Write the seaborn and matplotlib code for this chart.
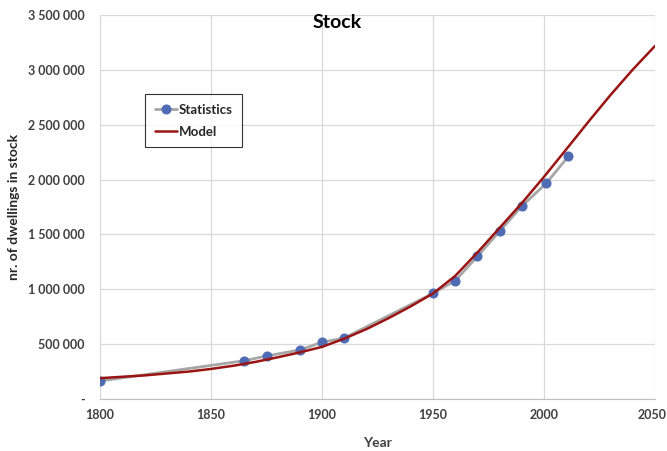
import matplotlib
matplotlib.use("Agg")
import matplotlib.pyplot as plt
import matplotlib.transforms as mtransforms
import seaborn as sns
import pandas as pd
from matplotlib.ticker import FuncFormatter, MultipleLocator

stat_years = [1800, 1865, 1875, 1890, 1900, 1910, 1950, 1960, 1970, 1980, 1990, 2001, 2011]
stat_values = [164000, 349000, 392000, 447000, 517000, 556000, 963000, 1078000,
               1300000, 1529000, 1757000, 1966000, 2212000]

model_years = [1800, 1820, 1840, 1850, 1860, 1870, 1880, 1890, 1900, 1910, 1920,
               1930, 1940, 1950, 1960, 1970, 1980, 1990, 2000, 2010, 2020, 2030,
               2040, 2050]
model_values = [190000, 215000, 250000, 274000, 303000, 338000, 380000, 425000,
                475000, 550000, 637000, 737000, 845000, 962000, 1122000, 1335000,
                1560000, 1785000, 2025000, 2275000, 2527000, 2772000, 3003000,
                3218000]

stats_df = pd.DataFrame({"Year": stat_years, "Stock": stat_values})
model_df = pd.DataFrame({"Year": model_years, "Stock": model_values})

sns.set_style("white")
plt.rcParams['font.family'] = ['Lato', 'DejaVu Sans']

fig = plt.figure(figsize=(6.67, 4.51), dpi=100)
ax = fig.add_axes([0.150, 0.1153, 0.832, 0.8514])

sns.lineplot(data=stats_df, x="Year", y="Stock", ax=ax, color="#a6a6a6",
             linewidth=2, marker="o", markersize=6.5, markerfacecolor="#4f6bb3",
             markeredgecolor="#4f6bb3", label="Statistics", zorder=3)
sns.lineplot(data=model_df, x="Year", y="Stock", ax=ax, color="#9b1414",
             linewidth=1.8, label="Model", zorder=4)

ax.set_xlim(1800, 2050)
ax.set_ylim(0, 3500000)
ax.xaxis.set_major_locator(MultipleLocator(50))
ax.yaxis.set_major_locator(MultipleLocator(500000))

def fmt(v, pos):
    if v == 0:
        return "-"
    return f"{int(round(v)):,}".replace(",", " ")

ax.yaxis.set_major_formatter(FuncFormatter(fmt))
ax.grid(True, color="#d9d9d9", linewidth=0.9)
ax.set_axisbelow(True)
for s in ["top", "right"]:
    ax.spines[s].set_visible(False)
ax.spines["left"].set_color("#d9d9d9")
ax.spines["bottom"].set_color("#bfbfbf")
ax.tick_params(axis="x", length=0, labelsize=9, labelcolor="#404040", pad=7)
ax.tick_params(axis="y", length=0, labelsize=9, labelcolor="#404040", pad=11)
for lab in ax.get_xticklabels() + ax.get_yticklabels():
    lab.set_fontweight("bold")

ax.set_xlabel("Year", fontsize=10, fontweight="bold", color="#404040", labelpad=12)
ax.set_ylabel("nr. of dwellings in stock", fontsize=10, fontweight="bold",
              color="#262626", labelpad=6)
fig.text(0.505, 0.951, "Stock", fontsize=14, fontweight="bold", color="black",
         ha="center", va="center")

leg = ax.legend(loc="upper left", bbox_to_anchor=(0.081, 0.795), borderaxespad=0,
                frameon=True, fancybox=False, fontsize=9.5, handlelength=1.7,
                borderpad=0.75, labelspacing=0.75, handletextpad=0.1)
leg.get_frame().set_edgecolor("black")
leg.get_frame().set_linewidth(0.8)
for t in leg.get_texts():
    t.set_fontweight("bold")

fig.canvas.draw()
last = ax.xaxis.get_major_ticks()
for tk in last:
    if abs(tk.get_loc() - 2050) < 1e-6:
        tk.label1.set_transform(tk.label1.get_transform() +
                                mtransforms.ScaledTranslation(-3 / 100, 0, fig.dpi_scale_trans))

fig.savefig("out.png", dpi=100)
